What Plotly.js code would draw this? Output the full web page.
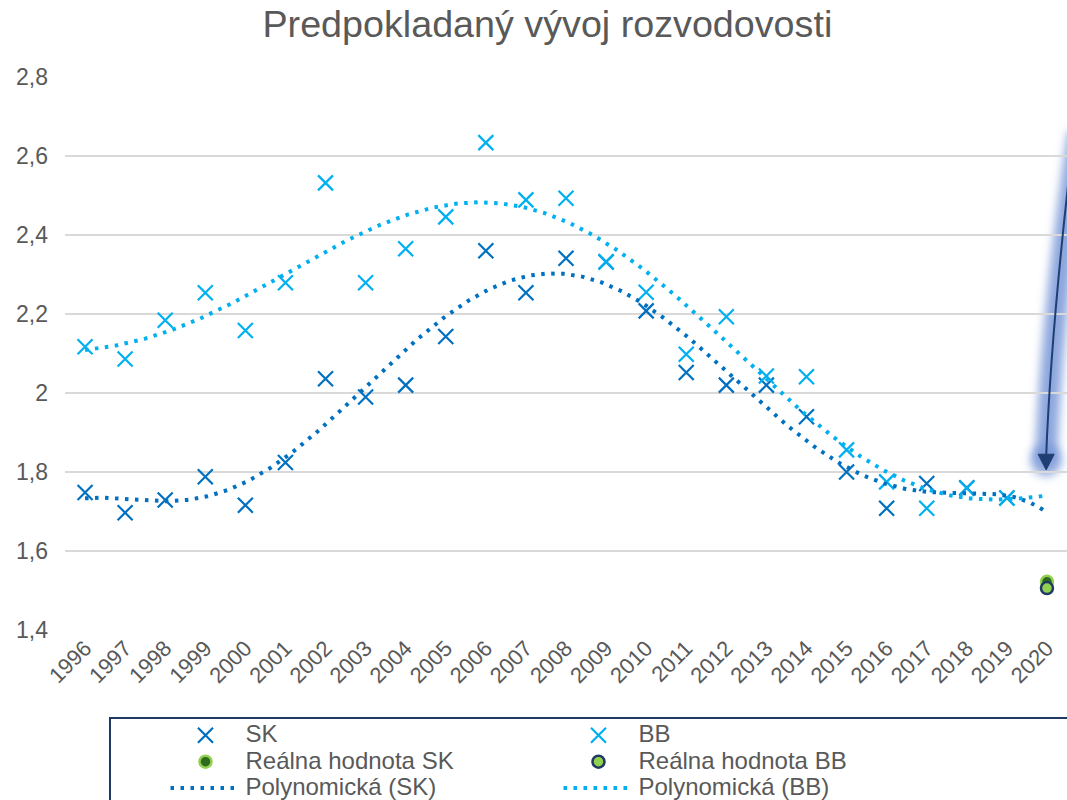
<!DOCTYPE html>
<html>
<head>
<meta charset="utf-8">
<script src="https://cdn.plot.ly/plotly-3.0.1.min.js"></script>
<style>
html,body{margin:0;padding:0;background:#fff;}
#chart{width:1067px;height:800px;}
</style>
</head>
<body>
<div id="chart"></div>
<script>
// ---- data ----
const years = [1996,1997,1998,1999,2000,2001,2002,2003,2004,2005,2006,2007,2008,2009,2010,2011,2012,2013,2014,2015,2016,2017,2018,2019];
const tickYears = [1996,1997,1998,1999,2000,2001,2002,2003,2004,2005,2006,2007,2008,2009,2010,2011,2012,2013,2014,2015,2016,2017,2018,2019,2020];
const skValues = [1.748,1.697,1.729,1.788,1.716,1.824,2.036,1.990,2.020,2.143,2.360,2.254,2.341,2.332,2.208,2.052,2.020,2.020,1.940,1.800,1.708,1.771,1.760,1.734];
const bbValues = [2.117,2.086,2.184,2.254,2.158,2.279,2.532,2.279,2.365,2.446,2.634,2.489,2.493,2.332,2.255,2.098,2.193,2.043,2.041,1.856,1.775,1.708,1.759,1.734];
const realYear = [2020];
const realSK = [1.522];
const realBB = [1.506];
const seriesNames = ['SK','BB','Reálna hodnota SK','Reálna hodnota BB','Polynomická (SK)','Polynomická (BB)'];
const polyOrder = 6;
const trendEnd = 2020;

// ---- polynomial trend (least squares) ----
function polyfit(xs, ys, order){
  const c0 = (xs[0]+xs[xs.length-1])/2, s = (xs[xs.length-1]-xs[0])/2;
  const m = order+1;
  const M = [], v = [];
  for(let i=0;i<m;i++){M.push(new Array(m).fill(0)); v.push(0);}
  xs.forEach((x,k)=>{
    const t=(x-c0)/s; const p=[]; let a=1;
    for(let i=0;i<m;i++){p.push(a); a*=t;}
    for(let i=0;i<m;i++){ v[i]+=p[i]*ys[k]; for(let j=0;j<m;j++) M[i][j]+=p[i]*p[j]; }
  });
  for(let i=0;i<m;i++){
    let piv=i; for(let r=i+1;r<m;r++) if(Math.abs(M[r][i])>Math.abs(M[piv][i])) piv=r;
    [M[i],M[piv]]=[M[piv],M[i]]; [v[i],v[piv]]=[v[piv],v[i]];
    for(let r=i+1;r<m;r++){ const f=M[r][i]/M[i][i]; for(let j=i;j<m;j++) M[r][j]-=f*M[i][j]; v[r]-=f*v[i]; }
  }
  const c=new Array(m).fill(0);
  for(let i=m-1;i>=0;i--){ let sum=v[i]; for(let j=i+1;j<m;j++) sum-=M[i][j]*c[j]; c[i]=sum/M[i][i]; }
  return x=>{ const t=(x-c0)/s; let r=0,a=1; for(let i=0;i<m;i++){r+=c[i]*a; a*=t;} return r; };
}
function trend(vals){
  const f = polyfit(years, vals, polyOrder);
  const xs=[], ys=[];
  for(let x=years[0]; x<=trendEnd+1e-9; x+=0.05){ xs.push(x); ys.push(f(x)); }
  return {x:xs, y:ys};
}
const tSK = trend(skValues), tBB = trend(bbValues);

const cSK = '#0070c0', cBB = '#00b0f0';
const lg = n => '<span style="font-size:24px">'+n+'</span>';

const traces = [
  {x:years, y:skValues, name:lg(seriesNames[0]), type:'scatter', mode:'markers',
   marker:{symbol:'x-thin', size:15, color:cSK, line:{width:2.2, color:cSK}}},
  {x:years, y:bbValues, name:lg(seriesNames[1]), type:'scatter', mode:'markers',
   marker:{symbol:'x-thin', size:15, color:cBB, line:{width:2.2, color:cBB}}},
  {x:realYear, y:realSK, name:lg(seriesNames[2]), type:'scatter', mode:'markers',
   marker:{symbol:'circle', size:12, color:'#2f6b1f', line:{width:2.5, color:'#92d050'}}},
  {x:realYear, y:realBB, name:lg(seriesNames[3]), type:'scatter', mode:'markers',
   marker:{symbol:'circle', size:12, color:'#92d050', line:{width:2.5, color:'#1f3864'}}},
  {x:tSK.x, y:tSK.y, name:lg(seriesNames[4]), type:'scatter', mode:'lines',
   line:{color:cSK, width:4, dash:'3.5px,6.5px'}},
  {x:tBB.x, y:tBB.y, name:lg(seriesNames[5]), type:'scatter', mode:'lines',
   line:{color:cBB, width:4, dash:'3.5px,6.5px'}}
];

const font = {family:'"Liberation Sans", Arial, sans-serif', color:'#595959'};
const GLOW = 'rgba(120,150,215,0.85)';

const layout = {
  width:1067, height:800,
  margin:{l:65, r:0, t:77, b:170},
  paper_bgcolor:'#fff', plot_bgcolor:'#fff',
  separators:', ',
  font:font,
  showlegend:true,
  title:{text:'Predpokladaný vývoj rozvodovosti', font:{family:font.family, color:'#595959', size:37.7},
         x:0.513, xanchor:'center', y:0.97, yref:'container', yanchor:'middle'},
  xaxis:{range:[1995.5,2020.5], tickvals:tickYears, ticktext:tickYears.map(String), tickangle:-45,
         showgrid:false, zeroline:false, showline:false, ticks:'',
         tickfont:{family:font.family, color:'#595959', size:22}},
  yaxis:{range:[1.3999,2.8001], dtick:0.2, tick0:1.4, showgrid:true, gridcolor:'#d9d9d9', gridwidth:1.5,
         zeroline:false, showline:false, ticks:'', ticklabelstandoff:16,
         tickfont:{family:font.family, color:'#595959', size:23}},
  legend:{orientation:'h', xref:'container', yref:'container', x:0.1551, y:0.1037, xanchor:'left', yanchor:'top',
          font:{family:font.family, color:'#595959', size:18}, itemwidth:70, entrywidth:308,
          bgcolor:'rgba(0,0,0,0)', borderwidth:0, tracegroupgap:0, traceorder:'normal'},
  shapes:[
    // legend frame
    {type:'rect', xref:'paper', yref:'paper', x0:0.0449, x1:1.02, y0:-0.34, y1:-0.1591,
     line:{color:'#1f3864', width:2}, fillcolor:'rgba(0,0,0,0)', layer:'above'},
    // arrow glow
    {type:'path', xref:'x', yref:'y', path:'M 2020.8 2.66 Q 2020.12 2.2 2019.98 1.83',
     line:{color:GLOW, width:22}, layer:'below'},
    {type:'circle', xref:'x', yref:'y', x0:2019.6, x1:2020.36, y0:1.79, y1:1.87,
     fillcolor:GLOW, line:{width:0}, layer:'below'},
    // arrow line
    {type:'path', xref:'x', yref:'y', path:'M 2020.75 2.72 Q 2020.12 2.2 2019.98 1.84',
     line:{color:'#1f3f73', width:2}, layer:'above'},
    // arrow head
    {type:'path', xref:'x', yref:'y', path:'M 2019.78 1.845 L 2020.18 1.845 L 2019.98 1.805 Z',
     fillcolor:'#1f3f73', line:{color:'#1f3f73', width:1}, layer:'above'}
  ]
};

Plotly.newPlot('chart', traces, layout, {displayModeBar:false, staticPlot:true}).then(gd => {
  // soft blur for the arrow glow
  const svg = gd.querySelector('svg.main-svg');
  const ns = 'http://www.w3.org/2000/svg';
  let defs = svg.querySelector('defs');
  if(!defs){ defs = document.createElementNS(ns,'defs'); svg.insertBefore(defs, svg.firstChild); }
  const filt = document.createElementNS(ns,'filter');
  filt.setAttribute('id','glowblur');
  filt.setAttribute('x','-200%'); filt.setAttribute('y','-50%');
  filt.setAttribute('width','500%'); filt.setAttribute('height','200%');
  const blur = document.createElementNS(ns,'feGaussianBlur');
  blur.setAttribute('stdDeviation','5');
  filt.appendChild(blur); defs.appendChild(filt);
  gd.querySelectorAll('.shapelayer path').forEach(p => {
    const st = (p.style.stroke||'') + ' ' + (p.style.fill||'');
    if(st.indexOf('120, 150, 215') >= 0){
      p.style.filter = 'url(#glowblur)';
      const par = p.parentNode;
      if(par && par.getAttribute('clip-path')) par.removeAttribute('clip-path');
      p.removeAttribute('clip-path');
    }
  });
});
</script>
</body>
</html>
